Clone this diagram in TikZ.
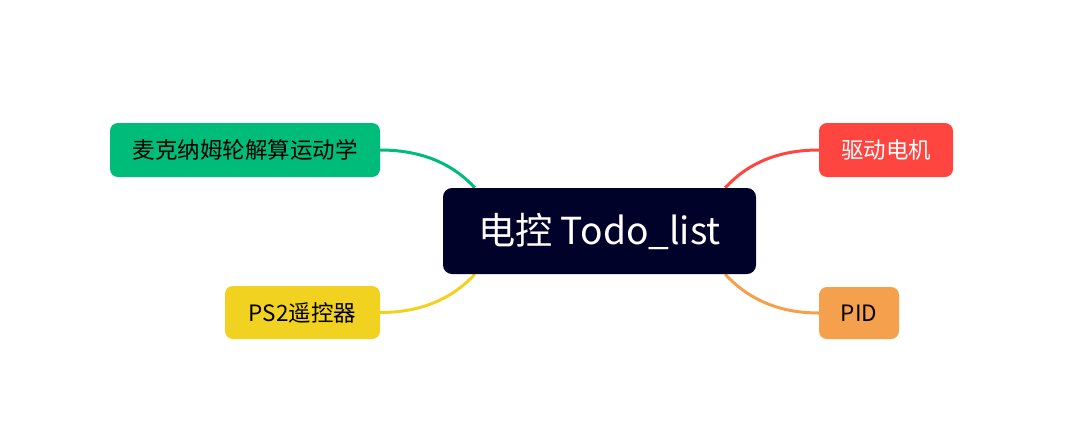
\documentclass[tikz,border=0pt]{standalone}
\usepackage{fontspec}
\setmainfont{Noto Sans CJK SC}
\usetikzlibrary{calc,backgrounds}
\definecolor{rootbg}{RGB}{0,2,41}
\definecolor{mgreen}{RGB}{0,188,123}
\definecolor{mred}{RGB}{255,69,64}
\definecolor{morange}{RGB}{245,160,76}
\definecolor{myellow}{RGB}{242,210,32}
\begin{document}
\begin{tikzpicture}[x=1pt,y=-1pt,
  topic/.style={rounded corners=8pt, inner sep=0pt, align=center,
    font=\fontsize{22.5}{25}\selectfont},
  root/.style={topic, fill=rootbg, text=white, rounded corners=9pt,
    font=\fontsize{37.2}{41}\selectfont},
  conn/.style={line width=3pt}]
\useasboundingbox (0,0) rectangle (1070,424);

% central topic
\node[root, minimum width=313pt, minimum height=86pt] (root) at (599.5,231) {电控 Todo\_list};

% branch topics
\node[topic, fill=mgreen, text=black, minimum width=270pt, minimum height=54pt] (mk) at (245,150) {麦克纳姆轮解算运动学};
\node[topic, fill=myellow, text=black, minimum width=155pt, minimum height=53pt] (ps) at (302.5,312.5) {PS2遥控器};
\node[topic, fill=mred, text=white, minimum width=134pt, minimum height=54pt] (motor) at (886,150) {驱动电机};
\node[topic, fill=morange, text=black, minimum width=80pt, minimum height=52pt] (pid) at (859,313) {PID};

% curved connectors, behind the boxes
\begin{scope}[on background layer]
\draw[conn, mgreen] (mk.east) .. controls +(40,0) and +(-23,-25) .. ($(root.north west)+(32,0)$);
\draw[conn, myellow] (ps.east) .. controls +(40,0) and +(-23,25) .. ($(root.south west)+(32,0)$);
\draw[conn, mred] (motor.west) .. controls +(-40,0) and +(23,-25) .. ($(root.north east)+(-31,0)$);
\draw[conn, morange] (pid.west) .. controls +(-40,0) and +(23,25) .. ($(root.south east)+(-31,0)$);
\end{scope}
\end{tikzpicture}
\end{document}
